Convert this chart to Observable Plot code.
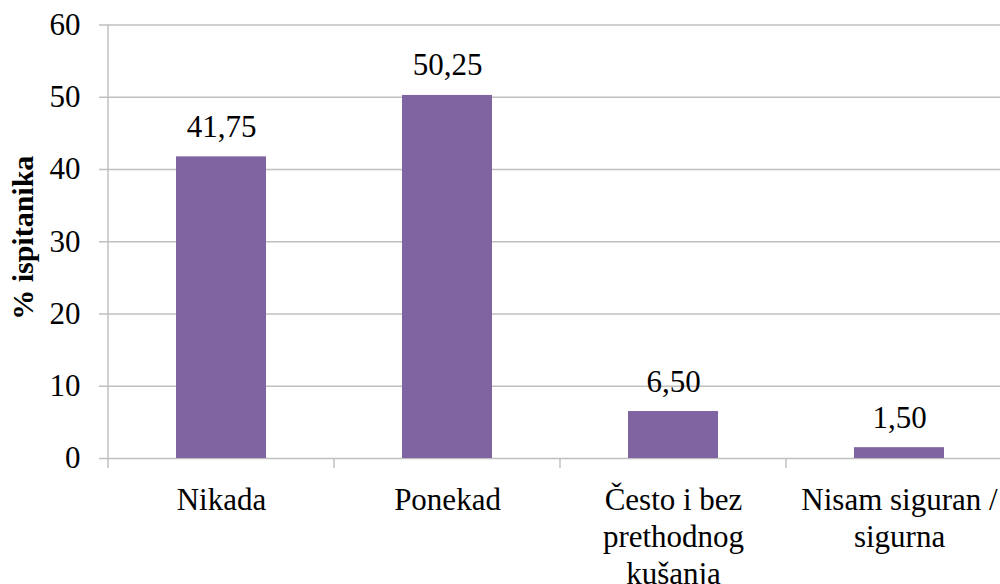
<!DOCTYPE html>
<html><head><meta charset="utf-8">
<script src="https://cdn.jsdelivr.net/npm/d3@7"></script>
<script src="https://cdn.jsdelivr.net/npm/@observablehq/plot@0.6"></script>
<style>html,body{margin:0;padding:0;overflow:hidden;background:#fff}
#chart svg, #chart svg text{font-family:'Liberation Serif','Times New Roman',serif !important;}</style>
</head><body><div id="chart"></div>
<script>
const categories = ["Nikada", "Ponekad", "Često i bez\nprethodnog\nkušanja", "Nisam siguran /\nsigurna"];
const values = [41.75, 50.25, 6.50, 1.50];
const yTicks = [0, 10, 20, 30, 40, 50, 60];
const yLabel = "% ispitanika";

const data = categories.map((c, i) => ({category: c, value: values[i]}));
const fmt = v => v.toFixed(2).replace(".", ",");
const gridColor = "#c0c0c0";
const barColor = "#8064A2";

function separators(index, scales, vals, dimensions) {
  const x = scales.x, y = scales.y;
  const step = x(categories[1]) - x(categories[0]);
  const x0 = dimensions.marginLeft;
  const g = d3.create("svg:g").attr("stroke", gridColor).attr("stroke-width", 1.5);
  g.append("line").attr("x1", x0).attr("x2", x0).attr("y1", y(yTicks[yTicks.length - 1])).attr("y2", y(0) + 10);
  categories.slice(1).forEach((c, i) => {
    const xi = x0 + (i + 1) * step;
    g.append("line").attr("x1", xi).attr("x2", xi).attr("y1", y(0)).attr("y2", y(0) + 10);
  });
  return g.node();
}

const chart = Plot.plot({
  width: 1000, height: 584,
  marginLeft: 108, marginRight: 0, marginTop: 24.5, marginBottom: 126,
  style: "font-family:'Liberation Serif','Times New Roman',serif;font-size:31px;color:#000;background:#fff;overflow:visible;",
  x: {domain: categories, range: [108, 1012], paddingInner: 0.6, paddingOuter: 0.3, label: null},
  y: {domain: [0, 60], label: null},
  marks: [
    Plot.gridY(yTicks, {stroke: gridColor, strokeOpacity: 1, strokeWidth: 1.5}),
    Plot.barY(data, {x: "category", y: "value", fill: barColor}),
    Plot.axisY(yTicks, {tickSize: 9, tickPadding: 19, stroke: gridColor, strokeOpacity: 1, strokeWidth: 1.5, fontSize: 31, label: null}),
    Plot.axisX({tickSize: 0, tickPadding: 26, lineHeight: 1.18, fontSize: 31, label: null}),
    separators,
    Plot.text(data, {x: "category", y: "value", text: d => fmt(d.value), lineAnchor: "bottom", dy: -20, fontSize: 31, fill: "#000"}),
    Plot.text([yLabel], {frameAnchor: "left", textAnchor: "middle", dx: -85, dy: -4, rotate: -90, fontWeight: "bold", fontSize: 30, fill: "#000"})
  ]
});
document.getElementById("chart").appendChild(chart);
</script>
</body></html>
